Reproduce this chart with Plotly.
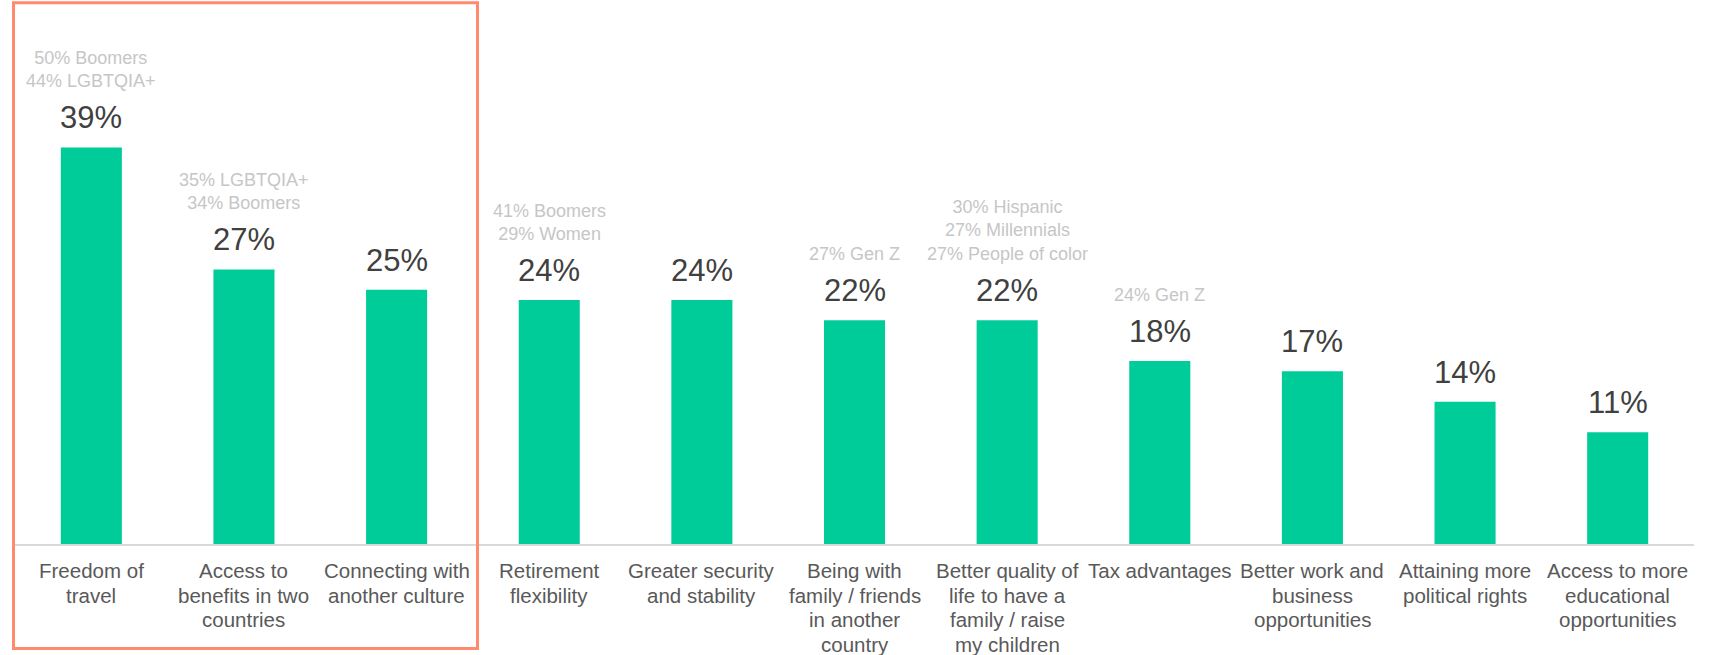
import plotly.graph_objects as go

categories = [
    "Freedom of<br>travel",
    "Access to<br>benefits in two<br>countries",
    "Connecting with<br>another culture",
    "Retirement<br>flexibility",
    "Greater security<br>and stability",
    "Being with<br>family / friends<br>in another<br>country",
    "Better quality of<br>life to have a<br>family / raise<br>my children",
    "Tax advantages",
    "Better work and<br>business<br>opportunities",
    "Attaining more<br>political rights",
    "Access to more<br>educational<br>opportunities",
]
values = [39, 27, 25, 24, 24, 22, 22, 18, 17, 14, 11]
notes = [
    "50% Boomers<br>44% LGBTQIA+",
    "35% LGBTQIA+<br>34% Boomers",
    "",
    "41% Boomers<br>29% Women",
    "",
    "27% Gen Z",
    "30% Hispanic<br>27% Millennials<br>27% People of color",
    "24% Gen Z",
    "",
    "",
    "",
]
n_highlight = 3

FONT = "Arial, 'Liberation Sans', sans-serif"
GREEN = "#00CC99"
LABEL_LINE_GAP = 24.7

fig = go.Figure()
fig.add_trace(go.Bar(
    x=categories, y=values, marker=dict(color=GREEN, line=dict(width=0)),
    hoverinfo="y",
))

for c, v, n in zip(categories, values, notes):
    fig.add_annotation(x=c, y=v, text=f"{v}%", showarrow=False, yanchor="bottom",
                       yshift=10, font=dict(family=FONT, size=31, color="#404040"))
    if n:
        fig.add_annotation(x=c, y=v, text=n, showarrow=False, yanchor="bottom",
                           yshift=54, font=dict(family=FONT, size=18, color="#C6C6C6"))
    for i, line in enumerate(c.split("<br>")):
        fig.add_annotation(x=c, y=0, text=line, showarrow=False, yanchor="top",
                           yshift=-13 - i * LABEL_LINE_GAP,
                           font=dict(family=FONT, size=20.5, color="#595959"))

fig.add_shape(type="rect", xref="x", yref="paper",
              x0=-0.51, x1=n_highlight - 0.47, y0=-0.192, y1=0.995,
              line=dict(color="#FF8A6E", width=3), fillcolor="rgba(0,0,0,0)", layer="above")

fig.update_layout(
    width=1712, height=655,
    margin=dict(l=12, r=18, t=0, b=111, autoexpand=False),
    paper_bgcolor="white", plot_bgcolor="white",
    bargap=0.6, showlegend=False,
    font=dict(family=FONT, color="#595959"),
)
fig.update_xaxes(
    showline=True, linecolor="#D9D9D9", linewidth=2, automargin=False,
    ticks="", showticklabels=False, showgrid=False, zeroline=False,
)
fig.update_yaxes(range=[0, 53.5], visible=False, showgrid=False, zeroline=False,
                 automargin=False)

fig.write_html("out.html",
               config={"displayModeBar": False},
               post_script="document.body.style.margin='0';document.body.style.overflow='hidden';")
